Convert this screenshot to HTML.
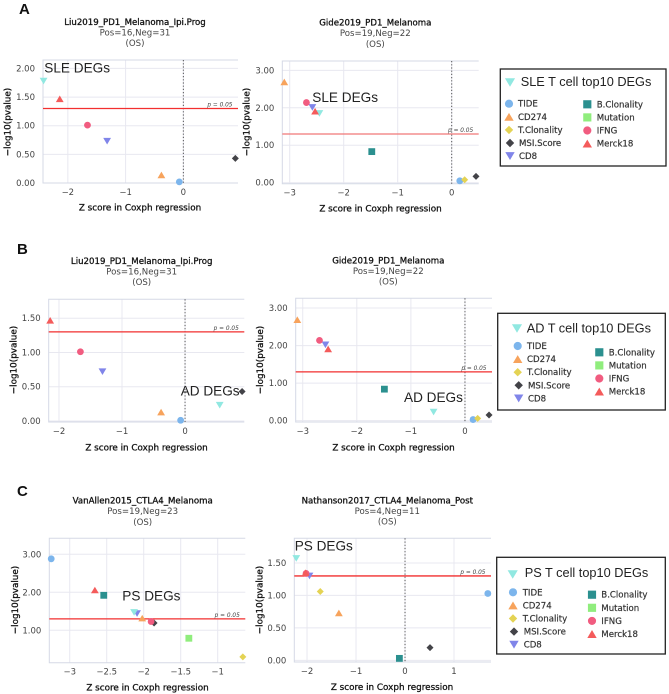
<!DOCTYPE html>
<html>
<head>
<meta charset="utf-8">
<style>
html,body{margin:0;padding:0;background:#fff;width:669px;height:694px;overflow:hidden}
svg{display:block;filter:blur(0.3px)}
text{font-family:"DejaVu Sans","Liberation Sans",sans-serif}
.ttl{font-size:8.6px;fill:#111;stroke:#111;stroke-width:.3;text-anchor:middle}
.sub{font-size:8.6px;fill:#444;text-anchor:middle}
.axt{font-size:8.8px;fill:#111;stroke:#111;stroke-width:.3;text-anchor:middle}
.ann{font-family:"Liberation Sans",sans-serif;font-size:13.6px;fill:#222}
.let{font-family:"Liberation Sans",sans-serif;font-size:15px;font-weight:bold;fill:#111}
.lgt{font-family:"Liberation Sans",sans-serif;font-size:12.75px;fill:#222}
</style>
</head>
<body>
<svg id="figure" width="669" height="694" viewBox="0 0 669 694" xmlns="http://www.w3.org/2000/svg">
<rect width="669" height="694" fill="#fff"/>

<text class="let" x="19" y="14">A</text>
<text class="let" x="17" y="254">B</text>
<text class="let" x="17" y="496">C</text>

<g id="a1">
<text class="ttl" x="135" y="25">Liu2019_PD1_Melanoma_Ipi.Prog</text>
<text class="sub" x="135" y="35.5">Pos=16,Neg=31</text>
<text class="sub" x="135" y="46">(OS)</text>
<text class="axt" x="140" y="210.5">Z score in Coxph regression</text>
<text class="axt" transform="translate(10.5,122) rotate(-90)">−log10(pvalue)</text>
</g>
<g id="a2">
<text class="ttl" x="375.3" y="25.5">Gide2019_PD1_Melanoma</text>
<text class="sub" x="375.3" y="36">Pos=19,Neg=22</text>
<text class="sub" x="375.3" y="47">(OS)</text>
<text class="axt" x="380.5" y="211.5">Z score in Coxph regression</text>
<text class="axt" transform="translate(249.5,122) rotate(-90)">−log10(pvalue)</text>
</g>
<g id="b1">
<text class="ttl" x="141.7" y="264">Liu2019_PD1_Melanoma_Ipi.Prog</text>
<text class="sub" x="141.7" y="274.5">Pos=16,Neg=31</text>
<text class="sub" x="141.7" y="285">(OS)</text>
<text class="axt" x="146.5" y="450.5">Z score in Coxph regression</text>
<text class="axt" transform="translate(16.5,360) rotate(-90)">−log10(pvalue)</text>
</g>
<g id="b2">
<text class="ttl" x="388.3" y="263.7">Gide2019_PD1_Melanoma</text>
<text class="sub" x="388.3" y="274">Pos=19,Neg=22</text>
<text class="sub" x="388.3" y="284.7">(OS)</text>
<text class="axt" x="393.5" y="450.5">Z score in Coxph regression</text>
<text class="axt" transform="translate(263,360) rotate(-90)">−log10(pvalue)</text>
</g>
<g id="c1">
<text class="ttl" x="142.7" y="503.7">VanAllen2015_CTLA4_Melanoma</text>
<text class="sub" x="142.7" y="514">Pos=19,Neg=23</text>
<text class="sub" x="142.7" y="525">(OS)</text>
<text class="axt" x="147.5" y="690.5">Z score in Coxph regression</text>
<text class="axt" transform="translate(18,600) rotate(-90)">−log10(pvalue)</text>
</g>
<g id="c2">
<text class="ttl" x="387.3" y="503.7">Nathanson2017_CTLA4_Melanoma_Post</text>
<text class="sub" x="387.3" y="514">Pos=4,Neg=11</text>
<text class="sub" x="387.3" y="524.7">(OS)</text>
<text class="axt" x="392" y="690">Z score in Coxph regression</text>
<text class="axt" transform="translate(262.3,600) rotate(-90)">−log10(pvalue)</text>
</g>

<g id="legend-a">
<text class="lgt" x="520.7" y="86">SLE T cell top10 DEGs</text>
</g>
<g id="legend-b">
<text class="lgt" x="526.7" y="332.3">AD T cell top10 DEGs</text>
</g>
<g id="legend-c">
<text class="lgt" x="524.7" y="577">PS T cell top10 DEGs</text>
</g>

<g id="annotations"></g>
</svg>

<script>
// ---- data ----
const categories = ['TIDE','CD274','T.Clonality','MSI.Score','CD8','B.Clonality','Mutation','IFNG','Merck18','T cell top10 DEGs'];
const a1Z = [-0.07,-0.38,null,0.90,-1.32,null,null,-1.66,-2.14,-2.42];
const a1P = [0.02,0.14,null,0.43,0.73,null,null,1.01,1.47,1.78];
const a2Z = [0.15,-3.10,0.24,0.45,-2.58,-1.48,null,-2.69,-2.53,-2.45];
const a2P = [0.05,2.69,0.08,0.17,2.01,0.83,null,2.14,1.91,1.85];
const b1Z = [-0.07,-0.38,null,0.905,-1.31,null,null,-1.66,-2.14,0.55];
const b1P = [0.01,0.13,null,0.43,0.72,null,null,1.01,1.47,0.23];
const b2Z = [0.15,-3.10,0.235,0.445,-2.58,-1.49,null,-2.69,-2.53,-0.58];
const b2P = [0.03,2.69,0.06,0.15,2.02,0.84,null,2.14,1.91,0.23];
const c1Z = [-3.25,-2.02,-0.66,-1.86,-2.09,-2.54,-1.39,-1.90,-2.66,-2.13];
const c1P = [2.88,1.32,0.30,1.19,1.44,1.92,0.79,1.23,2.06,1.47];
const c2Z = [1.69,-1.35,-1.73,0.51,-1.95,-0.115,null,-2.02,-2.03,-2.22];
const c2P = [1.03,0.73,1.06,0.195,1.30,0.03,null,1.34,1.35,1.57];
const pThreshold = 1.30;
const yTicksA1 = [0,0.5,1,1.5,2];
const xTicksA1 = [-2,-1,0];
const yTicksA2 = [0,1,2,3];
const xTicksA2 = [-3,-2,-1,0];
const yTicksB1 = [0,0.5,1,1.5];
const xTicksB1 = [-2,-1,0];
const yTicksB2 = [0,1,2,3];
const xTicksB2 = [-3,-2,-1,0];
const yTicksC1 = [1,2,3];
const xTicksC1 = [-3,-2.5,-2,-1.5,-1];
const yTicksC2 = [0,0.5,1,1.5];
const xTicksC2 = [-2,-1,0,1];
const annotationTexts = ['SLE DEGs','SLE DEGs','AD DEGs','AD DEGs','PS DEGs','PS DEGs'];

// ---- styling / layout ----
const NS = 'http://www.w3.org/2000/svg';
const seriesStyle = [
  ['#7cb5ec','circle'],['#f7a35c','up'],['#e4d354','diamond'],['#434348','diamond'],['#8085e9','down'],
  ['#2b908f','square'],['#90ed7d','square'],['#f15c80','circle'],['#f45b5b','up'],['#91e8e1','down']
];
const panels = [
  {id:'a1',z:a1Z,p:a1P,xT:xTicksA1,yT:yTicksA1,l:43,r:238,t:60,b:183,xd:[-2.43,0.946],yd:[0,2.147],line:'#f22f2f',ann:[44.3,72.7]},
  {id:'a2',z:a2Z,p:a2P,xT:xTicksA2,yT:yTicksA2,l:282.3,r:478.7,t:61,b:183.7,xd:[-3.137,0.5],yd:[-0.027,3.25],line:'#f07878',ann:[312.3,102]},
  {id:'b1',z:b1Z,p:b1P,xT:xTicksB1,yT:yTicksB1,l:48.7,r:244.3,t:299.3,b:422,xd:[-2.163,0.94],yd:[-0.015,1.776],line:'#f22f2f',ann:[180.7,395.7]},
  {id:'b2',z:b2Z,p:b2P,xT:xTicksB2,yT:yTicksB2,l:295.7,r:492,t:298.3,b:422,xd:[-3.13,0.5],yd:[-0.035,3.26],line:'#f22f2f',ann:[404,402]},
  {id:'c1',z:c1Z,p:c1P,xT:xTicksC1,yT:yTicksC1,l:49.3,r:245.3,t:538.3,b:662.7,xd:[-3.276,-0.627],yd:[0.147,3.42],line:'#f22f2f',ann:[122.3,600.7]},
  {id:'c2',z:c2Z,p:c2P,xT:xTicksC2,yT:yTicksC2,l:294.3,r:491,t:538.3,b:662,xd:[-2.26,1.755],yd:[-0.026,1.88],line:'#f22f2f',ann:[294.7,550.7]}
];
const legends = [
  {id:'legend-a',box:[500.3,69,666,166],ti:[510,82.5],lx:509,ltx:518,ly:103.7,rx:587.3,rtx:596.7,ry:104.3},
  {id:'legend-b',box:[497.7,313.3,665.3,410],ti:[517,328.5],lx:517.7,ltx:527,ly:346,rx:599.3,rtx:608.7,ry:352.3},
  {id:'legend-c',box:[496.7,557.3,665.3,654],ti:[512.7,574.5],lx:513,ltx:522.7,ly:592.3,rx:592,rtx:601.3,ry:594.7}
];

function el(tag, parent, attrs){
  const e = document.createElementNS(NS, tag);
  for (const k in attrs) e.setAttribute(k, attrs[k]);
  parent.appendChild(e);
  return e;
}
function label(e, name, interactive){
  
  
  return e;
}
function marker(parent, shape, color, x, y, s){
  let e;
  if (shape === 'circle') {
    e = el('circle', parent, {cx:x, cy:y, r:3.4*s, fill:color});
  } else if (shape === 'square') {
    e = el('rect', parent, {x:x-3.4*s, y:y-3.4*s, width:6.8*s, height:6.8*s, fill:color});
  } else if (shape === 'diamond') {
    const d = 3.5*s;
    e = el('path', parent, {d:`M${x} ${y-d}L${x+d} ${y}L${x} ${y+d}L${x-d} ${y}Z`, fill:color});
  } else {
    const w = 3.9*s, h = 3.3*s, dir = shape === 'up' ? 1 : -1;
    e = el('path', parent, {d:`M${x} ${y-dir*h}L${x+w} ${y+dir*h}L${x-w} ${y+dir*h}Z`, fill:color});
  }
  return e;
}
function fmtX(v){ return (v < 0 ? '−' : '') + String(Math.abs(v)); }

panels.forEach((P, pi) => {
  const g = document.getElementById(P.id);
  const sx = v => P.l + (v - P.xd[0]) / (P.xd[1] - P.xd[0]) * (P.r - P.l);
  const sy = v => P.b - (v - P.yd[0]) / (P.yd[1] - P.yd[0]) * (P.b - P.t);

  P.yT.forEach(v => {
    label(el('line', g, {x1:P.l, x2:P.r, y1:sy(v), y2:sy(v), stroke:'#e8e8f0', 'stroke-width':1}), 'y-gridline', false);
    const t = label(el('text', g, {x:P.l-8, y:sy(v)+3, 'text-anchor':'end', 'font-size':'8.5', fill:'#444'}), 'y-tick-label', false);
    t.textContent = v.toFixed(2);
  });
  P.xT.forEach(v => {
    label(el('line', g, {x1:sx(v), x2:sx(v), y1:P.t, y2:P.b, stroke:'#e8e8f0', 'stroke-width':1}), 'x-gridline', false);
    const t = label(el('text', g, {x:sx(v), y:P.b+12, 'text-anchor':'middle', 'font-size':'8.5', fill:'#444'}), 'x-tick-label', false);
    t.textContent = fmtX(v);
  });
  label(el('path', g, {d:`M${P.r} ${P.t}H${P.l}V${P.b}H${P.r}`, fill:'none', stroke:'#d5d9e6', 'stroke-width':1}), 'plot-frame', false);
  if (P.xd[0] < 0 && P.xd[1] > 0) {
    label(el('line', g, {x1:sx(0), x2:sx(0), y1:P.t, y2:P.b, stroke:'#555', 'stroke-width':1, 'stroke-dasharray':'1.2 2'}), 'zero-reference-line', false);
  }
  label(el('line', g, {x1:P.l, x2:P.r, y1:sy(pThreshold), y2:sy(pThreshold), stroke:P.line, 'stroke-width':1.3}), 'significance-line', false);
  const pt = label(el('text', g, {x:P.r-5.5, y:sy(pThreshold)-2, 'text-anchor':'end', 'font-size':'5.8', 'font-style':'italic', fill:'#444'}), 'significance-label', false);
  pt.textContent = 'p = 0.05';

  const drawOrder = [0,1,2,3,4,5,6,9,7,8];
  drawOrder.forEach(i => {
    if (P.z[i] === null || P.p[i] === null) return;
    const st = seriesStyle[i];
    const m = marker(g, st[1], st[0], sx(P.z[i]), sy(P.p[i]), 1);
    label(m, 'point-' + categories[i].toLowerCase().replace(/[^a-z0-9]+/g, '-'), false);
  });

  const a = label(el('text', document.getElementById('annotations'), {class:'ann', x:P.ann[0], y:P.ann[1]}), 'deg-annotation', false);
  a.textContent = annotationTexts[pi];
});

legends.forEach(L => {
  const g = document.getElementById(L.id);
  const r = label(el('rect', g, {x:L.box[0], y:L.box[1], width:L.box[2]-L.box[0], height:L.box[3]-L.box[1], fill:'none', stroke:'#222', 'stroke-width':1.3}), 'legend-box', false);
  g.insertBefore(r, g.firstChild);
  label(marker(g, seriesStyle[9][1], seriesStyle[9][0], L.ti[0], L.ti[1], 1.3), 'legend-title-marker', false);
  const step = 13.1;
  categories.slice(0, 9).forEach((name, i) => {
    const left = i < 5;
    const extra = (i === 3 || i === 4) ? 1 : 0;
    const iy = left ? L.ly + i*step : L.ry + (i-5)*step;
    const ix = (left ? L.lx : L.rx) + extra;
    const tx = (left ? L.ltx : L.rtx) + extra;
    const item = label(el('g', g, {}), 'legend-entry', true);
    label(marker(item, seriesStyle[i][1], seriesStyle[i][0], ix, iy, 1.2), 'legend-marker', false);
    const t = label(el('text', item, {x:tx, y:iy+3, 'font-size':'8.6', fill:'#333', stroke:'#333', 'stroke-width':'.2'}), 'legend-label', false);
    t.textContent = name;
  });
});
</script>
</body>
</html>
